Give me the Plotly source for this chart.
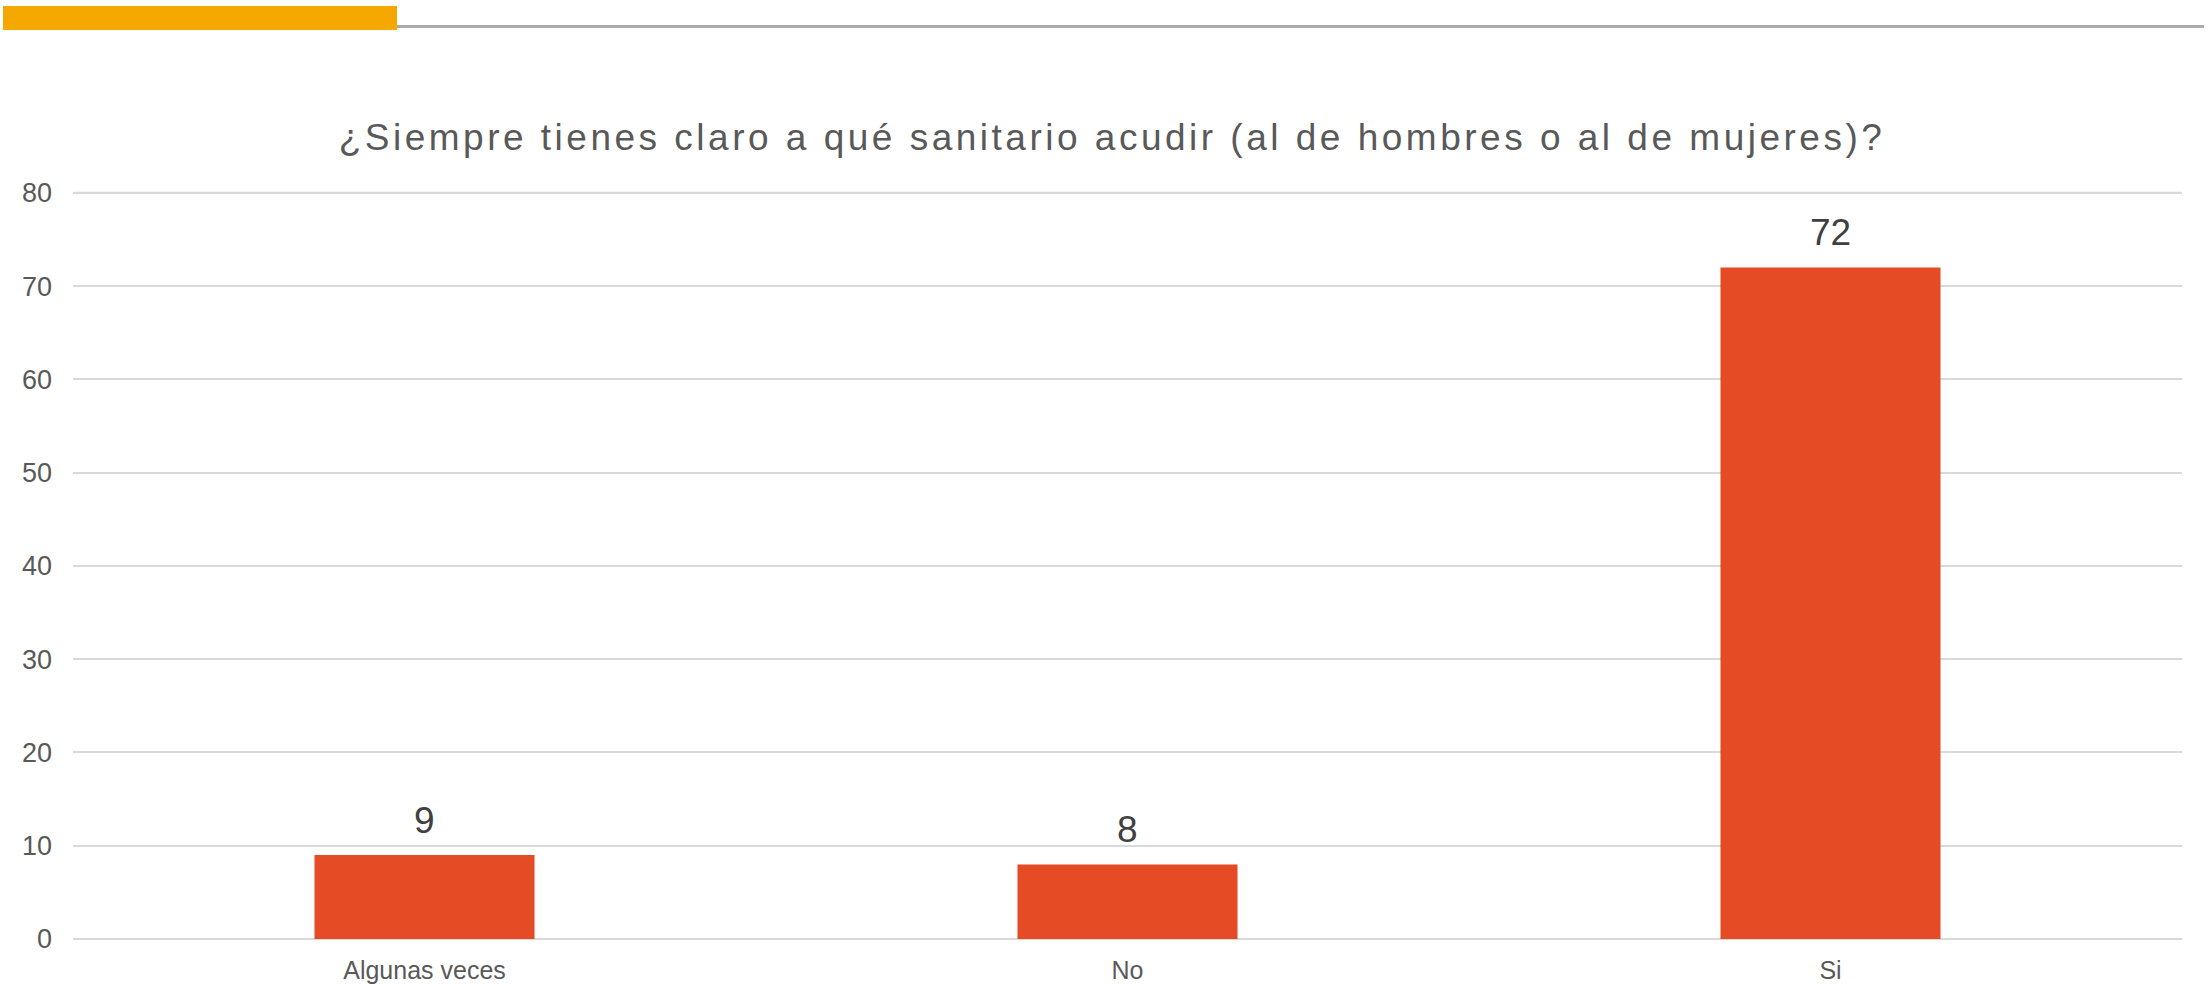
import plotly.graph_objects as go

categories = ["Algunas veces", "No", "Si"]
values = [9, 8, 72]
y_ticks = [0, 10, 20, 30, 40, 50, 60, 70, 80]
title_text = "¿Siempre tienes claro a qué sanitario acudir (al de hombres o al de mujeres)?"

W, H = 2208, 984
L, R, T, B = 73, 26, 191, 45
PW, PH = W - L - R, H - T - B

def px_x(px):
    return (px - L) / PW

def px_y(py):
    return (H - B - py) / PH

fig = go.Figure()
fig.add_trace(go.Bar(
    x=categories, y=values,
    marker=dict(color="#E54B24", line=dict(width=0)),
    width=0.313,
    hoverinfo="skip",
))

for c, v in zip(categories, values):
    fig.add_annotation(
        x=c, y=v, text=str(v), showarrow=False,
        yanchor="bottom", yshift=12,
        font=dict(family="Liberation Sans, Arial, sans-serif", size=37, color="#404040"),
    )

# top decoration
fig.add_shape(type="rect", xref="paper", yref="paper",
              x0=px_x(3), x1=px_x(397), y0=px_y(30), y1=px_y(6),
              fillcolor="#F5A800", line=dict(width=0), layer="above")
fig.add_shape(type="line", xref="paper", yref="paper",
              x0=px_x(397), x1=px_x(2204), y0=px_y(26.5), y1=px_y(26.5),
              line=dict(color="#ABABAB", width=3))
# top gridline at the 80 tick (range edge)
fig.add_shape(type="line", xref="paper", yref="y",
              x0=0, x1=1, y0=y_ticks[-1], y1=y_ticks[-1],
              line=dict(color="#D9D9D9", width=2), layer="below")

fig.update_layout(
    width=W, height=H,
    margin=dict(l=L, r=R, t=T, b=B, pad=0, autoexpand=False),
    paper_bgcolor="white", plot_bgcolor="white",
    showlegend=False,
    bargap=0.687,
    title=dict(
        text='<span style="letter-spacing:3.5px">' + title_text + '</span>',
        x=1112 / W, xanchor="center", xref="container",
        y=1 - 137 / H, yanchor="middle", yref="container",
        font=dict(family="Liberation Sans, Arial, sans-serif", size=37, color="#595959"),
        automargin=False,
    ),
    font=dict(family="Liberation Sans, Arial, sans-serif", color="#595959"),
)

fig.update_xaxes(
    showgrid=False, zeroline=False, showline=False, ticks="",
    tickfont=dict(size=25, color="#595959"),
    ticklabelstandoff=14, automargin=False,
)
fig.update_yaxes(
    range=[0, 80.2], tickvals=y_ticks, ticktext=[str(t) for t in y_ticks],
    showgrid=True, gridcolor="#D9D9D9", gridwidth=2,
    zeroline=True, zerolinecolor="#D9D9D9", zerolinewidth=2,
    showline=False, ticks="",
    tickfont=dict(size=27, color="#595959"),
    ticklabelstandoff=20, automargin=False,
)

fig.write_html("out.html", config={"displayModeBar": False},
               post_script="document.body.style.margin='0';")
